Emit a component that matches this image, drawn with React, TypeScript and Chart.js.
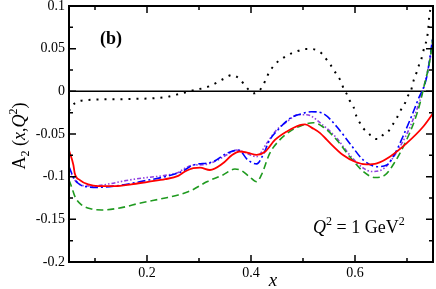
import { useEffect, useRef } from "react";
import { Chart, registerables } from "chart.js";

Chart.register(...registerables);

// ---- data ----
const xRed = [0.05, 0.0585, 0.061, 0.071, 0.087, 0.106, 0.138, 0.17, 0.202, 0.235, 0.26, 0.273, 0.289, 0.302, 0.321, 0.346, 0.363, 0.378, 0.394, 0.411, 0.427, 0.446, 0.469, 0.494, 0.504, 0.519, 0.533, 0.546, 0.577, 0.6, 0.622, 0.642, 0.667, 0.699, 0.731, 0.75];
const yRed = [-0.069, -0.0864, -0.096, -0.104, -0.109, -0.111, -0.111, -0.109, -0.106, -0.103, -0.099, -0.094, -0.09, -0.0895, -0.0922, -0.0844, -0.075, -0.0705, -0.072, -0.0745, -0.0708, -0.057, -0.047, -0.0395, -0.0387, -0.0434, -0.049, -0.057, -0.0747, -0.0825, -0.0856, -0.0844, -0.0766, -0.061, -0.0415, -0.0258];

const xGreen = [0.05, 0.055, 0.0615, 0.074, 0.094, 0.113, 0.145, 0.19, 0.235, 0.26, 0.279, 0.289, 0.315, 0.346, 0.369, 0.382, 0.397, 0.411, 0.42, 0.436, 0.452, 0.475, 0.5, 0.52, 0.538, 0.565, 0.59, 0.616, 0.638, 0.658, 0.677, 0.696, 0.715, 0.725, 0.731, 0.744, 0.75];
const yGreen = [-0.104, -0.112, -0.1235, -0.133, -0.138, -0.139, -0.137, -0.1305, -0.125, -0.1215, -0.1177, -0.115, -0.106, -0.098, -0.091, -0.093, -0.1, -0.106, -0.098, -0.0727, -0.059, -0.047, -0.0395, -0.0368, -0.0415, -0.057, -0.0766, -0.094, -0.101, -0.098, -0.0825, -0.061, -0.0336, -0.014, 0.0015, 0.0367, 0.064];

const xBlue = [0.05, 0.058, 0.068, 0.087, 0.106, 0.138, 0.2025, 0.235, 0.267, 0.289, 0.327, 0.353, 0.376, 0.394, 0.411, 0.423, 0.436, 0.449, 0.475, 0.5, 0.516, 0.538, 0.565, 0.59, 0.616, 0.642, 0.661, 0.677, 0.692, 0.711, 0.721, 0.738, 0.746, 0.75];
const yBlue = [-0.088, -0.1, -0.108, -0.112, -0.1125, -0.111, -0.104, -0.1, -0.094, -0.0864, -0.0825, -0.0727, -0.0688, -0.0805, -0.085, -0.0747, -0.057, -0.047, -0.0317, -0.0258, -0.0239, -0.0258, -0.0415, -0.061, -0.0805, -0.0883, -0.0864, -0.0727, -0.0532, -0.0258, -0.0102, 0.017, 0.048, 0.066];

const xPurple = [0.05, 0.058, 0.068, 0.087, 0.106, 0.131, 0.165, 0.2, 0.235, 0.26, 0.273, 0.289, 0.308, 0.327, 0.355, 0.372, 0.385, 0.411, 0.43, 0.449, 0.469, 0.49, 0.507, 0.538, 0.565, 0.59, 0.616, 0.632, 0.651, 0.67, 0.69, 0.706, 0.73, 0.745, 0.75];
const yPurple = [-0.09, -0.101, -0.108, -0.111, -0.1105, -0.108, -0.104, -0.101, -0.0985, -0.095, -0.09, -0.0864, -0.086, -0.083, -0.074, -0.0688, -0.0708, -0.0766, -0.061, -0.0454, -0.0356, -0.0275, -0.0275, -0.0395, -0.055, -0.0747, -0.09, -0.094, -0.0922, -0.0805, -0.061, -0.0415, 0.0, 0.04, 0.058];

const xBlack = [0.05, 0.056, 0.065, 0.08, 0.11, 0.17, 0.24, 0.265, 0.285, 0.32, 0.347, 0.363, 0.379, 0.387, 0.396, 0.406, 0.415, 0.4225, 0.428, 0.433, 0.44, 0.448, 0.458, 0.469, 0.48, 0.492, 0.504, 0.517, 0.528, 0.538, 0.546, 0.553, 0.56, 0.567, 0.573, 0.578, 0.584, 0.589, 0.597, 0.603, 0.61, 0.616, 0.626, 0.635, 0.645, 0.654, 0.664, 0.672, 0.68, 0.688, 0.696, 0.701, 0.708, 0.713, 0.719, 0.723, 0.728, 0.731, 0.735, 0.738, 0.741, 0.743, 0.7456];
const yBlack = [-0.023, -0.017, -0.0125, -0.0105, -0.0095, -0.009, -0.0063, -0.0025, 0.0005, 0.006, 0.0145, 0.019, 0.014, 0.008, 0.0015, -0.0023, 0.0003, 0.0062, 0.0132, 0.02, 0.027, 0.0328, 0.0375, 0.0418, 0.0452, 0.0476, 0.0496, 0.0496, 0.0476, 0.0433, 0.0367, 0.031, 0.024, 0.018, 0.0113, 0.0035, -0.003, -0.01, -0.018, -0.0297, -0.0375, -0.0434, -0.049, -0.055, -0.056, -0.051, -0.047, -0.0395, -0.0317, -0.022, -0.014, -0.0063, 0.0015, 0.0132, 0.023, 0.0308, 0.0387, 0.0464, 0.0543, 0.061, 0.0738, 0.0894, 0.097];

const xTicks = [0.2, 0.4, 0.6];
const xMinorTicks = [0.1, 0.3, 0.5, 0.7];
const yTicks = [-0.2, -0.15, -0.1, -0.05, 0, 0.05, 0.1];
const yMinorTicks = [-0.175, -0.125, -0.075, -0.025, 0.025, 0.075];

const SERIF = '"Liberation Serif", "Times New Roman", serif';

const pts = (xs: number[], ys: number[]) => xs.map((x, i) => ({ x, y: ys[i] }));

type Piece = { t: string; size: number; italic?: boolean; bold?: boolean; dy?: number };

function drawPieces(ctx: CanvasRenderingContext2D, pieces: Piece[], x: number, y: number, align: "left" | "center") {
  const font = (p: Piece) => `${p.italic ? "italic " : ""}${p.bold ? "bold " : ""}${p.size}px ${SERIF}`;
  let total = 0;
  for (const p of pieces) {
    ctx.font = font(p);
    total += ctx.measureText(p.t).width;
  }
  let cx = align === "center" ? x - total / 2 : x;
  ctx.textBaseline = "alphabetic";
  ctx.textAlign = "left";
  for (const p of pieces) {
    ctx.font = font(p);
    ctx.fillText(p.t, cx, y + (p.dy || 0));
    cx += ctx.measureText(p.t).width;
  }
}

const decorPlugin = {
  id: "decor",
  beforeDatasetsDraw(chart: any) {
    const { ctx, chartArea, scales } = chart;
    const y0 = scales.y.getPixelForValue(0);
    ctx.save();
    ctx.strokeStyle = "#000";
    ctx.lineWidth = 1.5;
    ctx.beginPath();
    ctx.moveTo(chartArea.left, y0);
    ctx.lineTo(chartArea.right, y0);
    ctx.stroke();
    ctx.restore();
  },
  afterDatasetsDraw(chart: any) {
    const { ctx, chartArea, scales } = chart;
    const { left, right, top, bottom } = chartArea;
    ctx.save();
    ctx.strokeStyle = "#000";
    ctx.lineWidth = 1.5;
    const major = 7;
    const minor = 4;
    ctx.beginPath();
    const xt = (v: number, len: number) => {
      const px = scales.x.getPixelForValue(v);
      ctx.moveTo(px, bottom);
      ctx.lineTo(px, bottom - len);
      ctx.moveTo(px, top);
      ctx.lineTo(px, top + len);
    };
    const yt = (v: number, len: number) => {
      const py = scales.y.getPixelForValue(v);
      ctx.moveTo(left, py);
      ctx.lineTo(left + len, py);
      ctx.moveTo(right, py);
      ctx.lineTo(right - len, py);
    };
    xTicks.forEach((v) => xt(v, major));
    xMinorTicks.forEach((v) => xt(v, minor));
    yTicks.forEach((v) => yt(v, major));
    yMinorTicks.forEach((v) => yt(v, minor));
    ctx.stroke();
    ctx.lineWidth = 2;
    ctx.strokeRect(left, top, right - left, bottom - top);

    ctx.fillStyle = "#000";
    // panel label
    drawPieces(ctx, [{ t: "(b)", size: 18, bold: true }], 100, 44, "left");
    // Q^2 label
    drawPieces(
      ctx,
      [
        { t: "Q", size: 18, italic: true },
        { t: "2", size: 12, dy: -8 },
        { t: " = 1 GeV", size: 18 },
        { t: "2", size: 12, dy: -8 },
      ],
      313,
      233,
      "left"
    );
    // x axis title
    drawPieces(ctx, [{ t: "x", size: 19, italic: true }], (left + right) / 2 + 22, 286, "center");
    // y axis title
    ctx.save();
    ctx.translate(25, 136);
    ctx.rotate(-Math.PI / 2);
    drawPieces(
      ctx,
      [
        { t: "A", size: 18 },
        { t: "2", size: 12, dy: 4 },
        { t: " (", size: 18 },
        { t: "x", size: 18, italic: true },
        { t: ",", size: 18 },
        { t: "Q", size: 18, italic: true },
        { t: "2", size: 12, dy: -8 },
        { t: ")", size: 18 },
      ],
      0,
      0,
      "center"
    );
    ctx.restore();
    ctx.restore();
  },
};

export default function App() {
  const ref = useRef<HTMLCanvasElement | null>(null);
  useEffect(() => {
    if (!ref.current) return;
    const line = (data: any, color: string, width: number, dash: number[]) => ({
      data,
      borderColor: color,
      borderWidth: width,
      borderDash: dash,
      pointRadius: 0,
      fill: false,
      cubicInterpolationMode: "monotone" as const,
    });
    const chart = new Chart(ref.current, {
      type: "line",
      data: {
        datasets: [
          line(pts(xRed, yRed), "#ff0000", 1.8, []),
          line(pts(xGreen, yGreen), "#1f9a1f", 1.6, [7, 4]),
          line(pts(xBlue, yBlue), "#0000ff", 1.6, [8, 3, 2, 3]),
          line(pts(xPurple, yPurple), "#9040e0", 1.6, [4, 2, 1.5, 2, 1.5, 2]),
          line(pts(xBlack, yBlack), "#000000", 2, [2, 6]),
        ],
      },
      options: {
        responsive: false,
        animation: false,
        layout: { padding: { left: 0, right: 3, top: 6, bottom: 0 } },
        plugins: { legend: { display: false }, tooltip: { enabled: false } },
        scales: {
          x: {
            type: "linear",
            min: 0.05,
            max: 0.75,
            grid: { display: false, drawTicks: false },
            border: { display: false },
            afterBuildTicks: (s: any) => {
              s.ticks = xTicks.map((v) => ({ value: v }));
            },
            afterFit: (s: any) => {
              s.height = 27;
              s.paddingLeft = 0;
              s.paddingRight = 0;
            },
            ticks: {
              color: "#000",
              padding: 3,
              maxRotation: 0,
              autoSkip: false,
              font: { family: SERIF, size: 14 },
              callback: (v: any) => String(Number(Number(v).toFixed(3))),
            },
          },
          y: {
            type: "linear",
            min: -0.2,
            max: 0.1,
            grid: { display: false, drawTicks: false },
            border: { display: false },
            afterBuildTicks: (s: any) => {
              s.ticks = yTicks.map((v) => ({ value: v }));
            },
            afterFit: (s: any) => {
              s.width = 69;
              s.paddingTop = 0;
              s.paddingBottom = 0;
            },
            ticks: {
              color: "#000",
              padding: 4,
              autoSkip: false,
              font: { family: SERIF, size: 14 },
              callback: (v: any) => String(Number(Number(v).toFixed(3))),
            },
          },
        },
      },
      plugins: [decorPlugin],
    });
    return () => chart.destroy();
  }, []);
  return (
    <div style={{ position: "fixed", left: 0, top: 0, width: 436, height: 289, background: "#fff" }}>
      <canvas ref={ref} width={436} height={289} />
    </div>
  );
}
